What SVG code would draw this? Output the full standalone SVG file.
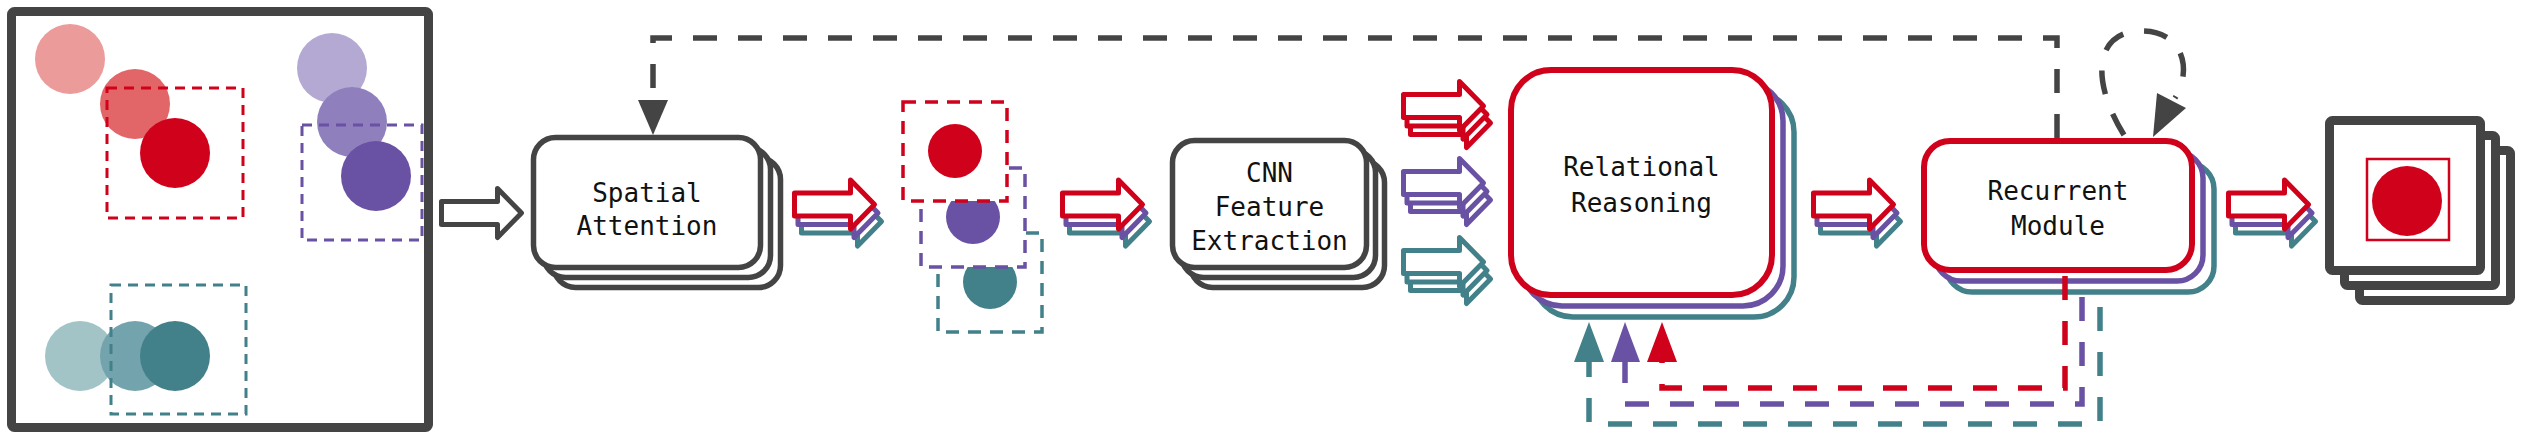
<svg xmlns="http://www.w3.org/2000/svg" xmlns:xlink="http://www.w3.org/1999/xlink" width="2522" height="444" viewBox="0 0 2522 444">
<style>
.gbox{fill:#fff;stroke:#444;stroke-width:5.5}
.rbox{fill:#fff;stroke:#D0011B;stroke-width:6}
.pbox{fill:#fff;stroke:#6951A3;stroke-width:5.5}
.tbox{fill:#fff;stroke:#42808A;stroke-width:5.5}
.lbl{font-family:"DejaVu Sans Mono","Liberation Mono",monospace;font-size:26px;fill:#111;text-anchor:middle}
.ga{fill:#fff;stroke:#444;stroke-width:5;stroke-linejoin:round}
.ra{fill:#fff;stroke:#D0011B;stroke-width:5;stroke-linejoin:round}
.pa{fill:#fff;stroke:#6951A3;stroke-width:5;stroke-linejoin:round}
.ta{fill:#fff;stroke:#42808A;stroke-width:5;stroke-linejoin:round}
.dr{fill:#fff;stroke:#D0011B;stroke-width:3.5;stroke-dasharray:13 9}
.dp{fill:#fff;stroke:#6951A3;stroke-width:3.5;stroke-dasharray:13 9}
.dt{fill:#fff;stroke:#42808A;stroke-width:3.5;stroke-dasharray:13 9}
.sdr{fill:none;stroke:#D0011B;stroke-width:3;stroke-dasharray:10 7}
.sdp{fill:none;stroke:#6951A3;stroke-width:3;stroke-dasharray:10 7}
.sdt{fill:none;stroke:#42808A;stroke-width:3;stroke-dasharray:10 7}
.fb{fill:none;stroke-width:5.5;stroke-dasharray:24 21}
</style>
<defs>
<path id="arr" d="M0,-11.5 H56 V-24.5 L80,0 L56,24.5 V11.5 H0 Z"/>
<g id="arr3">
<use xlink:href="#arr" x="7" y="17" class="ta"/>
<use xlink:href="#arr" x="3.5" y="8.5" class="pa"/>
<use xlink:href="#arr" x="0" y="0" class="ra"/>
</g>
</defs>

<g id="input-scene">
<rect x="11.5" y="11.5" width="417" height="416" rx="3" fill="#fff" stroke="#444" stroke-width="9"/>
<circle cx="70" cy="59" r="35" fill="#EA9B9A"/>
<circle cx="135" cy="104" r="35" fill="#E26568"/>
<circle cx="175" cy="153" r="35" fill="#D0011B"/>
<rect x="107" y="88" width="136" height="130" class="sdr"/>
<circle cx="332" cy="68" r="35" fill="#B4A9D3"/>
<circle cx="352" cy="122" r="35" fill="#8F80BD"/>
<circle cx="376" cy="176" r="35" fill="#6951A3"/>
<rect x="302" y="125" width="120" height="115" class="sdp"/>
<circle cx="80" cy="356" r="35" fill="#A3C4C7"/>
<circle cx="135" cy="356" r="35" fill="#73A3AC"/>
<circle cx="175" cy="356" r="35" fill="#42808A"/>
<rect x="111" y="285" width="135" height="129" class="sdt"/>
</g>

<g id="spatial-attention">
<rect x="553.5" y="157.5" width="227" height="130" rx="22" class="gbox"/>
<rect x="543.5" y="147.5" width="227" height="130" rx="22" class="gbox"/>
<rect x="533.5" y="137.5" width="227" height="130" rx="22" class="gbox"/>
<text class="lbl" x="647" y="202">Spatial</text>
<text class="lbl" x="647" y="235">Attention</text>
</g>

<g id="crops">
<rect x="938" y="233" width="104" height="99" class="dt"/>
<circle cx="990" cy="282" r="27" fill="#42808A"/>
<rect x="921" y="168" width="104" height="99" class="dp"/>
<circle cx="973" cy="217" r="27" fill="#6951A3"/>
<rect x="903" y="102" width="104" height="99" class="dr"/>
<circle cx="955" cy="151" r="27" fill="#D0011B"/>
</g>

<g id="cnn-feature-extraction">
<rect x="1190.5" y="160.5" width="194" height="127" rx="22" class="gbox"/>
<rect x="1181.5" y="150.5" width="194" height="127" rx="22" class="gbox"/>
<rect x="1172.5" y="140.5" width="194" height="127" rx="22" class="gbox"/>
<text class="lbl" x="1269.5" y="182">CNN</text>
<text class="lbl" x="1269.5" y="216">Feature</text>
<text class="lbl" x="1269.5" y="250">Extraction</text>
</g>

<g id="relational-reasoning">
<rect x="1533" y="92" width="261" height="225" rx="40" class="tbox"/>
<rect x="1522" y="81" width="261" height="225" rx="40" class="pbox"/>
<rect x="1511" y="70" width="261" height="225" rx="40" class="rbox"/>
<text class="lbl" x="1641.5" y="176">Relational</text>
<text class="lbl" x="1641.5" y="212">Reasoning</text>
</g>

<g id="recurrent-module">
<rect x="1946" y="163" width="268" height="129" rx="26" class="tbox"/>
<rect x="1935" y="152" width="268" height="129" rx="26" class="pbox"/>
<rect x="1924" y="141" width="268" height="129" rx="26" class="rbox"/>
<text class="lbl" x="2058" y="200">Recurrent</text>
<text class="lbl" x="2058" y="235">Module</text>
</g>

<g id="output">
<rect x="2359.5" y="150.5" width="151" height="150" rx="3" fill="#fff" stroke="#444" stroke-width="9"/>
<rect x="2344.5" y="135.5" width="151" height="150" rx="3" fill="#fff" stroke="#444" stroke-width="9"/>
<rect x="2329.5" y="120.5" width="151" height="150" rx="3" fill="#fff" stroke="#444" stroke-width="9"/>
<rect x="2367" y="159" width="82" height="81" fill="none" stroke="#D0011B" stroke-width="2.5"/>
<circle cx="2407" cy="201" r="35" fill="#D0011B"/>
</g>

<g id="connectors">
<use xlink:href="#arr" x="441.5" y="213" class="ga"/>
<use xlink:href="#arr3" x="794.5" y="204.5"/>
<use xlink:href="#arr3" x="1062.5" y="204.5"/>
<g>
<use xlink:href="#arr" x="1410.5" y="123" class="ra"/>
<use xlink:href="#arr" x="1407" y="114.5" class="ra"/>
<use xlink:href="#arr" x="1403.5" y="106" class="ra"/>
</g>
<g>
<use xlink:href="#arr" x="1410.5" y="200" class="pa"/>
<use xlink:href="#arr" x="1407" y="191.5" class="pa"/>
<use xlink:href="#arr" x="1403.5" y="183" class="pa"/>
</g>
<g>
<use xlink:href="#arr" x="1410.5" y="279" class="ta"/>
<use xlink:href="#arr" x="1407" y="270.5" class="ta"/>
<use xlink:href="#arr" x="1403.5" y="262" class="ta"/>
</g>
<use xlink:href="#arr3" x="1813.5" y="204.5"/>
<use xlink:href="#arr3" x="2228.5" y="204.5"/>

<path class="fb" stroke="#444" d="M2057 138 V38 H653 V101"/>
<polygon points="638,100 668,100 653,135" fill="#444"/>
<path class="fb" stroke="#444" stroke-dasharray="22 20" d="M2124 135 C2090 80 2095 32 2140 31 C2185 30 2192 72 2175 98"/>
<polygon points="2157,93 2186,108 2153,137" fill="#444"/>

<path class="fb" stroke="#42808A" d="M2100 307 V424 H1589 V362"/>
<path class="fb" stroke="#6951A3" d="M2082 297 V404 H1625 V362"/>
<path class="fb" stroke="#D0011B" d="M2065 276 V388 H1662 V362"/>
<polygon points="1574,362 1604,362 1589,322" fill="#42808A"/>
<polygon points="1611,362 1640,362 1625,322" fill="#6951A3"/>
<polygon points="1647,362 1677,362 1662,322" fill="#D0011B"/>
</g>
</svg>
